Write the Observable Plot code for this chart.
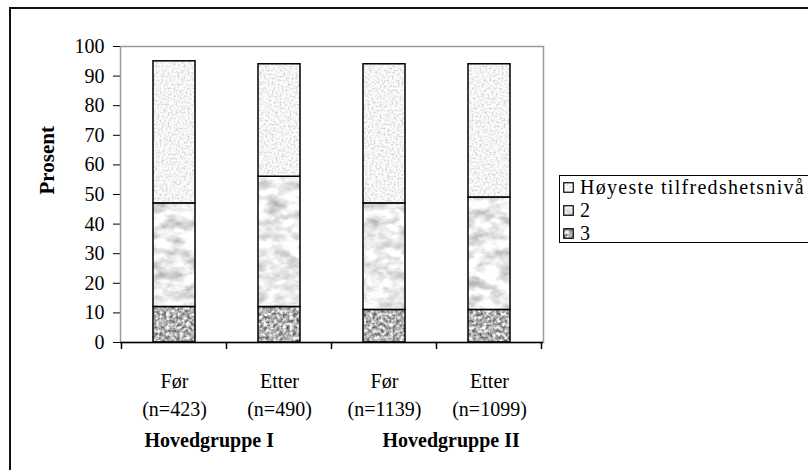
<!DOCTYPE html>
<html><head><meta charset="utf-8">
<script src="https://cdn.jsdelivr.net/npm/d3@7"></script>
<script src="https://cdn.jsdelivr.net/npm/@observablehq/plot@0.6"></script>
<style>
html,body{margin:0;padding:0;background:#fff;overflow:hidden;}
#wrap{position:relative;width:808px;height:470px;font-family:"Liberation Serif","Times New Roman",serif;}
#outer{position:absolute;left:9px;top:7px;width:900px;height:600px;border-left:2px solid #111;border-top:2px solid #111;box-sizing:border-box;}
#chart{position:absolute;left:0;top:0;}
#legend{position:absolute;left:559px;top:175px;width:300px;height:68px;border:1.5px solid #000;background:#fff;box-sizing:border-box;}
.item{position:absolute;left:3px;height:23px;display:flex;align-items:center;font-size:20px;white-space:nowrap;font-family:"Liberation Serif","Times New Roman",serif;}
.item svg{margin-right:6px;}
</style></head>
<body>
<div id="wrap"><div id="outer"></div><div id="chart"></div><div id="legend"></div></div>
<script>
const periods = ["Før", "Etter", "Før", "Etter"];
const counts = ["(n=423)", "(n=490)", "(n=1139)", "(n=1099)"];
const groupNames = ["Hovedgruppe I", "Hovedgruppe II"];
const levels = ["Høyeste tilfredshetsnivå", "2", "3"];
const valTop = [48, 38, 47, 45];
const val2 = [35, 44, 36, 38];
const val3 = [12, 12, 11, 11];
const yTicks = [0, 10, 20, 30, 40, 50, 60, 70, 80, 90, 100];
const yLabel = "Prosent";

const cats = periods.map((p, i) => p + "\n" + counts[i]);
const rows = [];
cats.forEach((c, i) => {
  rows.push({cat: c, level: levels[2], value: val3[i]});
  rows.push({cat: c, level: levels[1], value: val2[i]});
  rows.push({cat: c, level: levels[0], value: valTop[i]});
});
const patIds = ["pTop", "p2", "p3"];

const plot = Plot.plot({
  width: 808, height: 470,
  marginLeft: 120, marginRight: 265, marginTop: 46, marginBottom: 128,
  style: {fontFamily: "'Liberation Serif','Times New Roman',serif", fontSize: "20px", color: "#000", background: "transparent", overflow: "visible"},
  x: {domain: cats, paddingInner: 0.6, paddingOuter: 0.3, axis: null},
  y: {domain: [0, 100], ticks: yTicks, tickSize: 7, tickPadding: 9, line: true, label: null},
  color: {domain: levels, range: patIds.map(id => `url(#${id})`)},
  marks: [
    Plot.frame({stroke: "#9a9a9a", strokeWidth: 1.5}),
    Plot.barY(rows, {x: "cat", y: "value", fill: "level", stroke: "#000", strokeWidth: 1.5}),
    Plot.ruleY([0], {stroke: "#000", strokeWidth: 1.5}),
    Plot.text(cats, {x: d => d, frameAnchor: "bottom", dy: 25, lineAnchor: "top", lineHeight: 1.43, fontSize: 20}),
    Plot.text([groupNames[0]], {x: () => cats[0], frameAnchor: "bottom", dy: 90, dx: -30, lineAnchor: "top", textAnchor: "start", fontWeight: "bold", fontSize: 20}),
    Plot.text([groupNames[1]], {x: () => cats[2], frameAnchor: "bottom", dy: 90, dx: -2, lineAnchor: "top", textAnchor: "start", fontWeight: "bold", fontSize: 20}),
    Plot.text([yLabel], {frameAnchor: "left", rotate: -90, dx: -73, fontWeight: "bold", fontSize: 21})
  ]
});
document.getElementById("chart").appendChild(plot);

// textures
const svg = d3.select(plot);
const defs = svg.insert("defs", ":first-child");
function noisePattern(id, freq, type, oct, slope, icpt, seed) {
  const f = defs.append("filter").attr("id", id + "f").attr("x", 0).attr("y", 0)
    .attr("width", "100%").attr("height", "100%").attr("color-interpolation-filters", "sRGB");
  f.append("feTurbulence").attr("type", type).attr("baseFrequency", freq).attr("numOctaves", oct).attr("seed", seed);
  f.append("feColorMatrix").attr("type", "matrix")
    .attr("values", `${slope} 0 0 0 ${icpt} ${slope} 0 0 0 ${icpt} ${slope} 0 0 0 ${icpt} 0 0 0 0 1`);
  const p = defs.append("pattern").attr("id", id).attr("patternUnits", "userSpaceOnUse").attr("width", 808).attr("height", 470);
  p.append("rect").attr("width", 808).attr("height", 470).attr("filter", `url(#${id}f)`);
}
noisePattern("pTop", "0.5", "fractalNoise", 2, 0.45, 0.73, 3);
noisePattern("p2", "0.06 0.1", "fractalNoise", 3, 0.6, 0.62, 7);
noisePattern("p3", "0.3", "fractalNoise", 2, 1.2, 0.1, 11);

// x ticks at category boundaries
const xs = plot.scale("x");
const gap = (xs.step - xs.bandwidth) / 2;
const bounds = cats.map(c => xs.apply(c) - gap).concat([xs.apply(cats[cats.length - 1]) + xs.bandwidth + gap]);
const ys = plot.scale("y");
svg.append("g").selectAll("line").data(bounds).join("line")
  .attr("x1", d => d).attr("x2", d => d).attr("y1", ys.apply(0)).attr("y2", ys.apply(0) + 7)
  .attr("stroke", "#000").attr("stroke-width", 1.5);

// legend
const lg = d3.select("#legend");
levels.forEach((l, i) => {
  const it = lg.append("div").attr("class", "item").style("top", (i * 23) + "px");
  const s = it.append("svg").attr("width", 11).attr("height", 11);
  s.append("rect").attr("x", 0.75).attr("y", 0.75).attr("width", 9.5).attr("height", 9.5)
    .attr("fill", `url(#${patIds[i]})`).attr("stroke", "#000").attr("stroke-width", 1.2);
  it.append("span").text(l).style("letter-spacing", i === 0 ? "1.3px" : "0");
});
</script>
</body></html>
